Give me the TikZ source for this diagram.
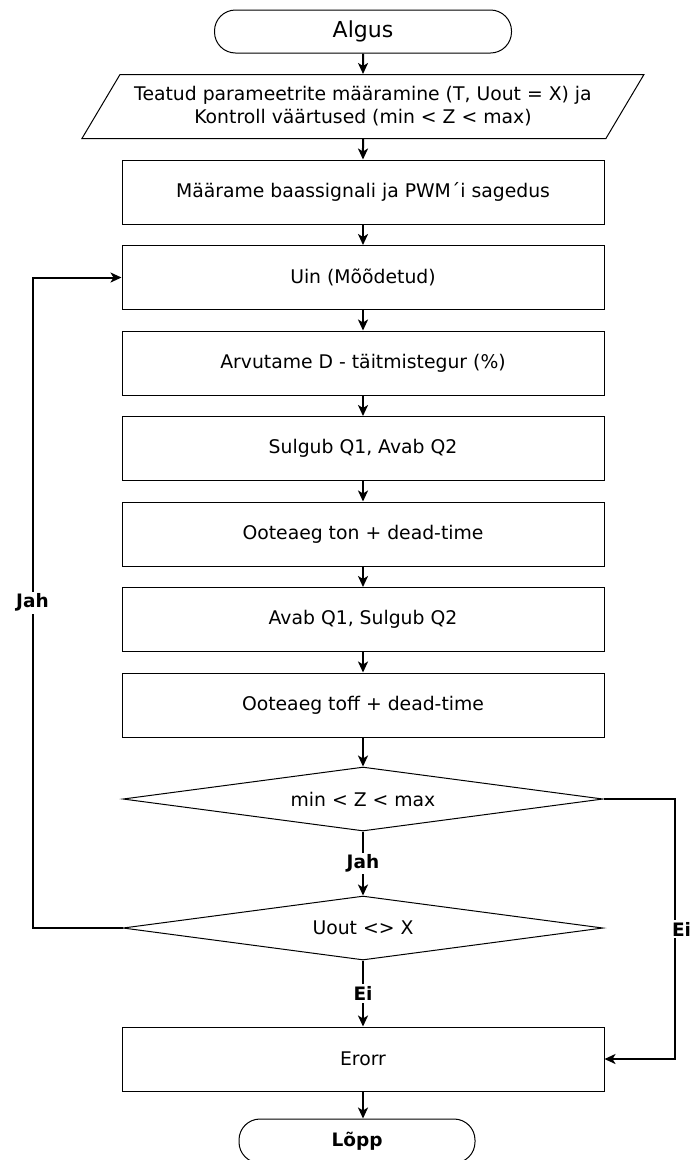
\documentclass[tikz,border=0pt]{standalone}
\usepackage{fontspec}
\setmainfont{DejaVu Sans}
\usepackage{tikz}
\usetikzlibrary{shapes,arrows.meta,positioning}

\begin{document}
\begin{tikzpicture}[
			x=1pt, y=-1pt,
			node distance=20.5pt,
			font=\fontsize{18.8}{23}\selectfont,
			terminal/.style={rectangle, draw, rounded corners=21pt, minimum height=43pt, line width=1pt},
			block/.style={rectangle, draw, minimum width=482pt, minimum height=64pt, line width=1pt},
			io/.style={trapezium, draw, trapezium left angle=49, trapezium right angle=131, trapezium stretches body=true, minimum width=562pt, minimum height=64pt, inner sep=2pt, align=center, line width=1pt},
			decision/.style={diamond, draw, aspect=7.5, minimum width=480pt, minimum height=64pt, inner sep=0pt, line width=1pt},
			lbl/.style={fill=white, inner sep=2pt, font=\fontsize{18.5}{22}\selectfont\bfseries},
			line/.style={draw, -{Stealth[length=11pt,width=10pt,inset=3pt]}, line width=2pt}
			]
			\useasboundingbox (0,0) rectangle (689,1160);
			% Nodes
			\node [terminal, minimum width=297pt, font=\fontsize{22}{26}\selectfont] (start) at (363,31.5) {Algus};
			\node [io, below=of start] (params) {Teatud parameetrite määramine (T, Uout = X) ja\\Kontroll väärtused (min < Z < max)};
			\node [block, below=of params] (base) {Määrame baassignali ja PWM´i sagedus};
			\node [block, below=of base] (uin) {Uin (Mõõdetud)};
			\node [block, below=of uin] (duty) {Arvutame D - täitmistegur (\%)};
			\node [block, below=of duty] (swa) {Sulgub Q1, Avab Q2};
			\node [block, below=of swa] (ton) {Ooteaeg ton + dead-time};
			\node [block, below=of ton] (swb) {Avab Q1, Sulgub Q2};
			\node [block, below=of swb] (toff) {Ooteaeg toff + dead-time};
			\node [decision, below=29pt of toff] (range) {min < Z < max};
			\node [decision, below=64pt of range] (uout) {Uout <> X};
			\node [block, below=66pt of uout] (err) {Erorr};
			\node [terminal, below=27pt of err, xshift=-6pt, minimum width=236pt, minimum height=44pt, font=\fontsize{18.5}{22}\selectfont\bfseries] (stop) {Lõpp};

			% Connections
			\path [line] (start) -- (params);
			\path [line] (params) -- (base);
			\path [line] (base) -- (uin);
			\path [line] (uin) -- (duty);
			\path [line] (duty) -- (swa);
			\path [line] (swa) -- (ton);
			\path [line] (ton) -- (swb);
			\path [line] (swb) -- (toff);
			\path [line] (toff) -- (range);
			\path [line] (range) -- node[lbl] {Jah} (uout);
			\path [line] (uout) -- node[lbl] {Ei} (err);
			\path [line] (err.south -| uin) -- (stop.north -| uin);
			\path [line] (uout.west) -- ++(-90,0) |- node[lbl, pos=0.25] {Jah} (uin.west);
			\path [line] (range.east) -- ++(71,0) |- node[lbl, pos=0.25, xshift=7pt] {Ei} (err.east);
		\end{tikzpicture}
\end{document}
